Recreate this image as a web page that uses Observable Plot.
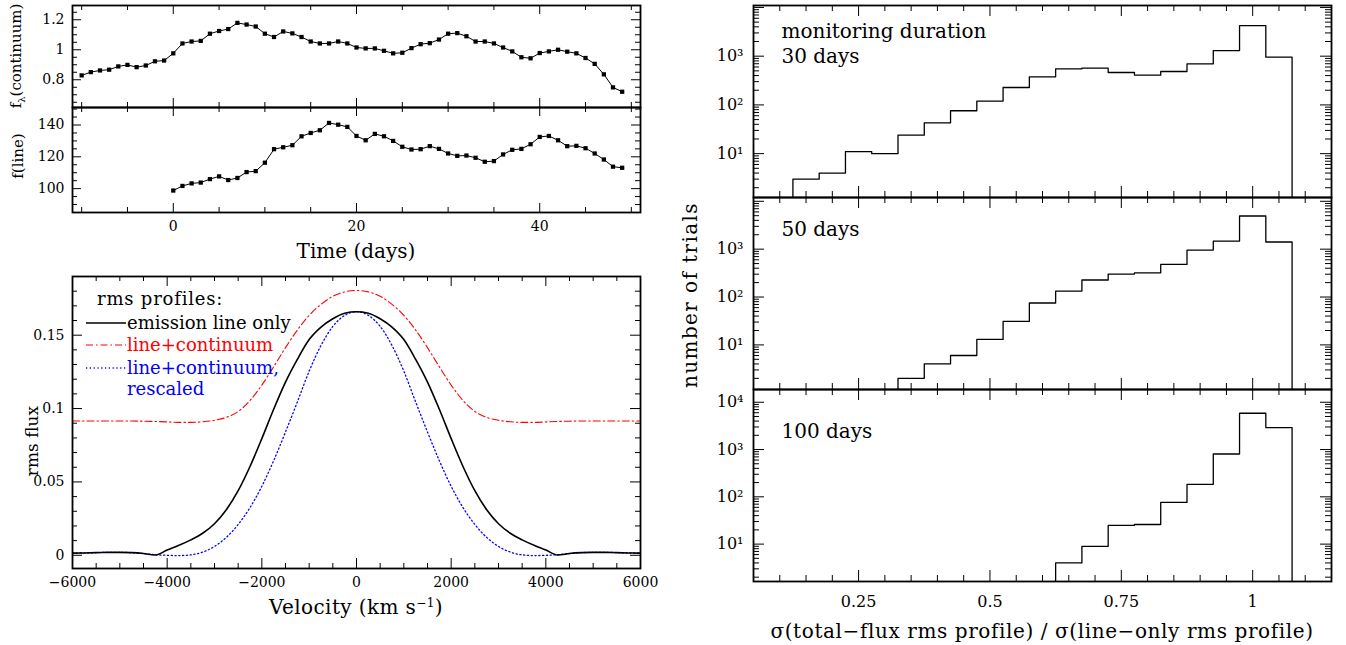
<!DOCTYPE html>
<html><head><meta charset="utf-8">
<script src="https://cdn.jsdelivr.net/npm/d3@7"></script>
<script src="https://cdn.jsdelivr.net/npm/@observablehq/plot@0.6"></script>
<style>
body{margin:0;background:#fff;}
#c{position:relative;width:1346px;height:645px;font-family:"DejaVu Serif",serif;color:#000;overflow:hidden;}
.t{position:absolute;white-space:nowrap;line-height:1;}
.rot{transform:translate(-50%,-50%) rotate(-90deg);}
.ctr{transform:translate(-50%,-50%);}
.lg{position:absolute;white-space:nowrap;font-size:18px;line-height:1;transform:translateY(-50%);}
</style></head><body><div id="c"></div>
<script>
// ---------------- data ----------------
const contDay = [-10,-9,-8,-7,-6,-5,-4,-3,-2,-1,0,1,2,3,4,5,6,7,8,9,10,11,12,13,14,15,16,17,18,19,20,21,22,23,24,25,26,27,28,29,30,31,32,33,34,35,36,37,38,39,40,41,42,43,44,45,46,47,48,49];
const contFlux = [0.829,0.851,0.862,0.867,0.889,0.899,0.884,0.895,0.923,0.928,0.976,1.042,1.055,1.059,1.107,1.125,1.138,1.179,1.168,1.155,1.107,1.085,1.122,1.109,1.085,1.055,1.042,1.042,1.055,1.042,1.015,1.009,1.009,0.993,0.976,0.980,1.011,1.037,1.044,1.068,1.107,1.111,1.090,1.055,1.055,1.042,1.015,0.989,0.950,0.943,0.978,0.989,1.000,0.987,0.976,0.945,0.906,0.836,0.749,0.720];
const lineDay = [0,1,2,3,4,5,6,7,8,9,10,11,12,13,14,15,16,17,18,19,20,21,22,23,24,25,26,27,28,29,30,31,32,33,34,35,36,37,38,39,40,41,42,43,44,45,46,47,48,49];
const lineFlux = [98.8,101.7,103.3,103.8,106.0,107.7,105.4,106.7,110.4,111.0,116.3,124.8,126.0,127.3,132.9,135.0,136.7,141.3,140.2,138.8,133.1,130.4,134.4,132.9,130.0,126.3,124.6,124.8,126.7,125.0,122.1,120.6,120.8,119.4,116.9,117.3,121.5,124.4,125.0,127.9,132.5,133.1,130.4,126.7,126.9,125.4,122.1,118.3,113.8,113.1];

const velocity = [-6000,-5750,-5500,-5250,-5000,-4750,-4500,-4250,-4000,-3750,-3500,-3250,-3000,-2750,-2500,-2250,-2000,-1750,-1500,-1250,-1000,-750,-500,-250,0,250,500,750,1000,1250,1500,1750,2000,2250,2500,2750,3000,3250,3500,3750,4000,4250,4500,4750,5000,5250,5500,5750,6000];
const rmsLine = [0.0015,0.0016,0.0018,0.0020,0.0020,0.0018,0.0012,0.0002,0.0036,0.0068,0.0105,0.0150,0.0215,0.0310,0.0440,0.0605,0.0795,0.0995,0.1180,0.1335,0.1470,0.1555,0.1612,0.1650,0.1660,0.1650,0.1612,0.1555,0.1470,0.1335,0.1180,0.0995,0.0795,0.0605,0.0440,0.0310,0.0215,0.0150,0.0105,0.0068,0.0036,0.0002,0.0012,0.0018,0.0020,0.0020,0.0018,0.0016,0.0015];
const rmsTotal = [0.0915,0.0915,0.0915,0.0915,0.0915,0.0915,0.0914,0.0912,0.0909,0.0906,0.0906,0.0910,0.0920,0.0940,0.0980,0.1055,0.1160,0.1285,0.1415,0.1535,0.1635,0.1710,0.1765,0.1795,0.1805,0.1795,0.1765,0.1710,0.1635,0.1535,0.1415,0.1285,0.1160,0.1055,0.0980,0.0940,0.0920,0.0910,0.0906,0.0906,0.0909,0.0912,0.0914,0.0915,0.0915,0.0915,0.0915,0.0915,0.0915];
const rmsRescaled = [0.0015,0.0016,0.0018,0.0020,0.0020,0.0018,0.0012,0.0004,0.0000,-0.0002,0.0003,0.0022,0.0060,0.0122,0.0210,0.0325,0.0470,0.0645,0.0840,0.1045,0.1255,0.1430,0.1560,0.1635,0.1660,0.1635,0.1560,0.1430,0.1255,0.1045,0.0840,0.0645,0.0470,0.0325,0.0210,0.0122,0.0060,0.0022,0.0003,-0.0002,0.0000,0.0004,0.0012,0.0018,0.0020,0.0020,0.0018,0.0016,0.0015];

const histCenter = [0.15,0.20,0.25,0.30,0.35,0.40,0.45,0.50,0.55,0.60,0.65,0.70,0.75,0.80,0.85,0.90,0.95,1.00,1.05];
const n30 = [3,4,11,10,24,43,76,120,228,378,551,568,463,408,485,697,1306,4247,955];
const n50 = [0,0,0,0,2,4,6,13,31,75,133,227,301,320,480,955,1476,4924,1410];
const n100 = [0,0,0,0,0,0,0,0,0,0,4,9,25,26,76,184,805,5850,2910];
const binWidth = 0.05;

const timeLabels = [0,20,40];
const contLabels = [0.8,1,1.2];
const lineLabels = [100,120,140];
const velLabels = [-6000,-4000,-2000,0,2000,4000,6000];
const rmsLabels = [0,0.05,0.1,0.15];
const ratioLabels = [0.25,0.5,0.75,1];
const decadeLabels = [10,100,1000,10000];

// ---------------- helpers ----------------
const FONT = "DejaVu Serif";
const root = document.getElementById("c");
const range = (a,b,s) => { const r=[]; for (let v=a; v<=b+1e-9; v+=s) r.push(+v.toFixed(6)); return r; };
const sup = {"1":"¹","2":"²","3":"³","4":"⁴"};

function panel(cfg) {
  const ml = 70, mr = 12, mt = 12, mb = 34;
  const iw = cfg.box[2]-cfg.box[0], ih = cfg.box[3]-cfg.box[1];
  const xd = cfg.x.domain, yd = cfg.y.domain;
  const inX = v => v >= Math.min(...xd)-1e-9 && v <= Math.max(...xd)+1e-9;
  const inY = v => v >= Math.min(...yd)-1e-12 && v <= Math.max(...yd)+1e-9;
  const MAJ = cfg.maj ?? 10, MIN = cfg.min ?? 5;
  const tk = [];
  const xM = cfg.xMajor.filter(inX), xm = cfg.xMinor.filter(inX);
  const yM = cfg.yMajor.filter(inY), ym = cfg.yMinor.filter(inY);
  const st = {stroke:"black", strokeWidth:1};
  tk.push(Plot.tickX(xM, {x:d=>d, insetTop: ih-MAJ, ...st}));
  tk.push(Plot.tickX(xM, {x:d=>d, insetBottom: ih-MAJ, ...st}));
  tk.push(Plot.tickX(xm, {x:d=>d, insetTop: ih-MIN, ...st}));
  tk.push(Plot.tickX(xm, {x:d=>d, insetBottom: ih-MIN, ...st}));
  tk.push(Plot.tickY(yM, {y:d=>d, insetRight: iw-MAJ, ...st}));
  tk.push(Plot.tickY(yM, {y:d=>d, insetLeft: iw-MAJ, ...st}));
  tk.push(Plot.tickY(ym, {y:d=>d, insetRight: iw-MIN, ...st}));
  tk.push(Plot.tickY(ym, {y:d=>d, insetLeft: iw-MIN, ...st}));
  const ax = [];
  if (cfg.xLabels) ax.push(Plot.axisX({ticks: cfg.xLabels, tickSize:0, tickPadding: cfg.xPad ?? 9, tickFormat: cfg.xFmt, label:null}));
  else ax.push(Plot.axisX({ticks: [], tickSize:0, label:null}));
  if (cfg.yLabels) ax.push(Plot.axisY({ticks: cfg.yLabels.filter(inY), tickSize:0, tickPadding: cfg.yPad ?? 8, tickFormat: cfg.yFmt, label:null}));
  else ax.push(Plot.axisY({ticks: [], tickSize:0, label:null}));
  const svg = Plot.plot({
    width: iw+ml+mr, height: ih+mt+mb,
    marginLeft: ml, marginRight: mr, marginTop: mt, marginBottom: mb,
    x: cfg.x, y: cfg.y,
    style: {fontFamily: FONT, fontSize: (cfg.fs ?? 14)+"px", background:"transparent", color:"black", overflow:"visible"},
    marks: [...cfg.marks, ...tk, ...ax, Plot.frame({stroke:"black", strokeWidth:1.8})]
  });
  svg.style.position = "absolute";
  svg.style.left = (cfg.box[0]-ml)+"px";
  svg.style.top = (cfg.box[1]-mt)+"px";
  root.appendChild(svg);
}

function label(html, x, y, size, cls, spacing) {
  const d = document.createElement("div");
  d.className = "t " + cls;
  d.style.left = x+"px"; d.style.top = y+"px"; d.style.fontSize = size+"px";
  if (spacing) d.style.letterSpacing = spacing+"px";
  d.innerHTML = html;
  root.appendChild(d);
  return d;
}

// ---------------- left: light curves ----------------
const contData = contDay.map((d,i)=>({day:d, f:contFlux[i]}));
const lineData = lineDay.map((d,i)=>({day:d, f:lineFlux[i]}));
const timeX = {domain:[-11,51]};

panel({
  box:[72,5,640,107], x:timeX, y:{domain:[0.615,1.295]},
  xMajor: timeLabels, xMinor: range(-10,50,5).filter(v=>!timeLabels.includes(v)),
  yMajor: contLabels, yMinor: range(0.65,1.25,0.05).filter(v=>!contLabels.some(l=>Math.abs(l-v)<1e-6)),
  yLabels: contLabels, yFmt: d=>String(d), fs:14, maj:9, min:5,
  marks:[
    Plot.line(contData, {x:"day", y:"f", stroke:"black", strokeWidth:1}),
    Plot.dot(contData, {x:"day", y:"f", symbol:"square", r:2.4, fill:"black", stroke:null})
  ]
});
panel({
  box:[72,107,640,212], x:timeX, y:{domain:[85,151]},
  xMajor: timeLabels, xMinor: range(-10,50,5).filter(v=>!timeLabels.includes(v)),
  yMajor: lineLabels, yMinor: range(90,150,5).filter(v=>!lineLabels.includes(v)),
  xLabels: timeLabels, xFmt: d=>String(d), yLabels: lineLabels, yFmt: d=>String(d), fs:14, maj:9, min:5,
  marks:[
    Plot.line(lineData, {x:"day", y:"f", stroke:"black", strokeWidth:1}),
    Plot.dot(lineData, {x:"day", y:"f", symbol:"square", r:2.4, fill:"black", stroke:null})
  ]
});

// ---------------- left: rms profiles ----------------
const rmsData = velocity.map((v,i)=>({v, line:rmsLine[i], tot:rmsTotal[i], resc:rmsRescaled[i]}));
panel({
  box:[72,276,640,568], x:{domain:[-6000,6000]}, y:{domain:[-0.009,0.19]},
  xMajor: velLabels, xMinor: range(-5500,5500,500).filter(v=>!velLabels.includes(v)),
  yMajor: rmsLabels, yMinor: range(0,0.18,0.01).filter(v=>!rmsLabels.some(l=>Math.abs(l-v)<1e-6)),
  xLabels: velLabels, xFmt: d=>d<0 ? "−"+Math.abs(d) : String(d), yLabels: rmsLabels, yFmt: d=>String(d), fs:14, maj:10, min:5,
  marks:[
    Plot.line(rmsData, {x:"v", y:"tot", stroke:"#ff0000", strokeWidth:1.1, strokeDasharray:"7,3,1.5,3", curve:"monotone-x", clip:true}),
    Plot.line(rmsData, {x:"v", y:"resc", stroke:"#0000ff", strokeWidth:1.3, strokeDasharray:"1.2,2.6", curve:"monotone-x", clip:true}),
    Plot.line(rmsData, {x:"v", y:"line", stroke:"black", strokeWidth:1.6, curve:"monotone-x", clip:true})
  ]
});

// legend (html overlay)
function legendRow(y, color, dash, text, width) {
  const s = document.createElementNS("http://www.w3.org/2000/svg","svg");
  s.setAttribute("width","40"); s.setAttribute("height","6");
  s.style.position="absolute"; s.style.left="86px"; s.style.top=(y-3)+"px";
  const l = document.createElementNS("http://www.w3.org/2000/svg","line");
  l.setAttribute("x1","0"); l.setAttribute("x2","40"); l.setAttribute("y1","3"); l.setAttribute("y2","3");
  l.setAttribute("stroke", color); l.setAttribute("stroke-width", width);
  if (dash) l.setAttribute("stroke-dasharray", dash);
  s.appendChild(l); root.appendChild(s);
  const d = document.createElement("div");
  d.className = "lg"; d.style.left="127px"; d.style.top=y+"px"; d.style.color = color;
  d.textContent = text; root.appendChild(d);
}
const rp = label("rms profiles:", 97, 299, 18, "", 0.8);
rp.style.transform = "translateY(-50%)";
legendRow(323, "black", null, "emission line only", 1.6);
legendRow(345, "#ff0000", "7,3,1.5,3", "line+continuum", 1.1);
legendRow(368, "#0000ff", "1.2,2.6", "line+continuum,", 1.3);
const resc = document.createElement("div");
resc.className="lg"; resc.style.left="127px"; resc.style.top="389px"; resc.style.color="#0000ff"; resc.textContent="rescaled";
root.appendChild(resc);

// ---------------- right: histograms ----------------
function stepPts(counts, floor) {
  const idx = counts.map((c,i)=>i).filter(i=>counts[i]>0);
  const pts = [{x: histCenter[idx[0]]-binWidth/2, y: floor}];
  for (const i of idx) {
    pts.push({x: histCenter[i]-binWidth/2, y: counts[i]});
    pts.push({x: histCenter[i]+binWidth/2, y: counts[i]});
  }
  pts.push({x: histCenter[idx[idx.length-1]]+binWidth/2, y: floor});
  return pts;
}
const logMinor = [];
for (const d of [1,10,100,1000,10000]) for (let k=2;k<=9;k++) logMinor.push(d*k);
const ratioX = {domain:[0.05,1.15]};
const hists = [
  {box:[753,5,1331,197], n:n30, dom:[1.26,10965], lab:[10,100,1000], txt:[["monitoring duration",26],["30 days",51]]},
  {box:[753,197,1331,389], n:n50, dom:[1.17,12000], lab:[10,100,1000], txt:[["50 days",32]]},
  {box:[753,389,1331,581], n:n100, dom:[1.62,18600], lab:decadeLabels, txt:[["100 days",42]]}
];
hists.forEach((h,k)=>{
  panel({
    box:h.box, x:ratioX, y:{type:"log", domain:h.dom},
    xMajor: ratioLabels, xMinor: range(0.05,1.15,0.05).filter(v=>!ratioLabels.some(l=>Math.abs(l-v)<1e-6)),
    yMajor: decadeLabels, yMinor: logMinor,
    xLabels: k===2 ? ratioLabels : null, xFmt: d=>String(d), xPad: 14,
    yLabels: h.lab, yFmt: d=>"10"+sup[String(Math.round(Math.log10(d)))], yPad: 10, fs:16, maj:11, min:6,
    marks:[
      Plot.line(stepPts(h.n, h.dom[0]/3), {x:"x", y:"y", stroke:"black", strokeWidth:1.3, clip:true}),
      ...h.txt.map(([s,dy])=>Plot.text([s], {text:d=>d, frameAnchor:"top-left", dx:28, dy, textAnchor:"start", lineAnchor:"middle", fontSize:20}))
    ]
  });
});

// ---------------- axis titles ----------------
label("f<sub style='font-size:10px'>λ</sub>(continuum)", 18, 56, 15, "rot");
label("f(line)", 18, 156, 15, "rot");
label("Time (days)", 356, 251, 20, "ctr");
label("rms flux", 32, 441, 17, "rot");
label("Velocity (km s<sup style='font-size:12px'>−1</sup>)", 356, 607, 20, "ctr", 0.4);
label("number of trials", 690, 295, 20, "rot", 1.4);
label("σ(total−flux rms profile) / σ(line−only rms profile)", 1042, 631, 20, "ctr", 0.6);
</script></body></html>
